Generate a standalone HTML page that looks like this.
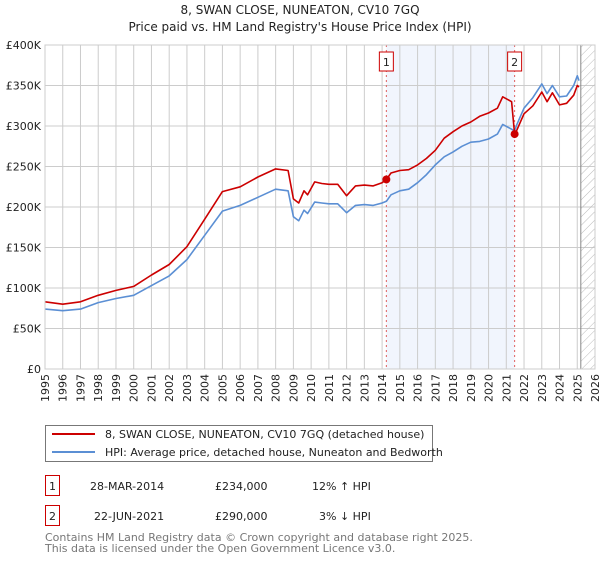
<!DOCTYPE html>
<html><head><meta charset="utf-8"><style>
body{margin:0;background:#fff;font-family:"DejaVu Sans","Liberation Sans",sans-serif;}
svg text{font-family:"DejaVu Sans","Liberation Sans",sans-serif;}
</style></head><body>
<svg id="chart" width="600" height="560" viewBox="0 0 600 560" xmlns="http://www.w3.org/2000/svg">
<defs><pattern id="hatch" width="6" height="6" patternUnits="userSpaceOnUse" patternTransform="rotate(45)"><line x1="0" y1="0" x2="0" y2="6" stroke="#bbb" stroke-width="1"/></pattern></defs>
<text x="300" y="14" text-anchor="middle" font-size="12" fill="#222">8, SWAN CLOSE, NUNEATON, CV10 7GQ</text>
<text x="300" y="31" text-anchor="middle" font-size="12" fill="#222">Price paid vs. HM Land Registry's House Price Index (HPI)</text>
<g id="plot"></g>
<g>
<rect x="45.5" y="425.5" width="387" height="36" fill="#fff" stroke="#777"/>
<line x1="52" y1="434" x2="95" y2="434" stroke="#cc0000" stroke-width="2"/>
<text x="105" y="438" font-size="11" fill="#222">8, SWAN CLOSE, NUNEATON, CV10 7GQ (detached house)</text>
<line x1="52" y1="452" x2="95" y2="452" stroke="#5b8fd4" stroke-width="2"/>
<text x="105" y="456" font-size="11" fill="#222">HPI: Average price, detached house, Nuneaton and Bedworth</text>
</g>
<g font-size="11" fill="#222">
<rect x="45.5" y="475.5" width="14" height="20" fill="none" stroke="#cc0000"/>
<text x="52.5" y="490" text-anchor="middle">1</text>
<text x="90" y="490">28-MAR-2014</text>
<text x="215" y="490">£234,000</text>
<text x="312" y="490">12% ↑ HPI</text>
<rect x="45.5" y="505.5" width="14" height="20" fill="none" stroke="#cc0000"/>
<text x="52.5" y="520" text-anchor="middle">2</text>
<text x="94" y="520">22-JUN-2021</text>
<text x="215" y="520">£290,000</text>
<text x="319" y="520">3% ↓ HPI</text>
</g>
<text x="45" y="541" font-size="11" fill="#777">Contains HM Land Registry data © Crown copyright and database right 2025.</text>
<text x="45" y="552" font-size="11" fill="#777">This data is licensed under the Open Government Licence v3.0.</text>
</svg>
<script>
const years=[1995,1996,1997,1998,1999,2000,2001,2002,2003,2004,2005,2006,2007,2008,2008.7,2009.0,2009.3,2009.6,2009.8,2010.2,2010.6,2011,2011.5,2012,2012.5,2013,2013.5,2014,2014.24,2014.5,2015,2015.5,2016,2016.5,2017,2017.5,2018,2018.5,2019,2019.5,2020,2020.5,2020.8,2021.3,2021.47,2021.6,2022,2022.5,2023,2023.3,2023.6,2024,2024.4,2024.8,2025,2025.1];
const hpiValues=[74,72,74,82,87,91,103,115,135,165,195,202,212,222,220,188,183,196,192,206,205,204,204,193,202,203,202,205,207,215,220,222,230,240,252,262,268,275,280,281,284,290,302,296,294,302,322,335,352,340,350,336,337,350,362,356];
const priceValues=[83,80,83,91,97,102,116,129,151,185,219,225,237,247,245,210,205,220,215,231,229,228,228,214,226,227,226,230,234,242,245,246,252,260,270,285,293,300,305,312,316,322,336,330,290,295,315,325,342,330,341,326,328,338,350,348];
const yTicks=[0,50,100,150,200,250,300,350,400];
const yTickLabels=['£0','£50K','£100K','£150K','£200K','£250K','£300K','£350K','£400K'];
const xTickYears=[1995,1996,1997,1998,1999,2000,2001,2002,2003,2004,2005,2006,2007,2008,2009,2010,2011,2012,2013,2014,2015,2016,2017,2018,2019,2020,2021,2022,2023,2024,2025,2026];
const saleYears=[2014.24,2021.47];
const salePrices=[234,290];
const saleLabels=['1','2'];
const NS='http://www.w3.org/2000/svg';
const L=45,R=595,T=45,B=369;
const x=y=>L+(y-1995)/(2026-1995)*(R-L);
const yv=v=>B-v/400*(B-T);
const g=document.getElementById('plot');
function mk(tag,attrs){const e=document.createElementNS(NS,tag);for(const k in attrs)e.setAttribute(k,attrs[k]);g.appendChild(e);return e;}
let e;
e=mk('rect',{x:x(saleYears[0]),y:T,width:x(saleYears[1])-x(saleYears[0]),height:B-T,fill:'#eef3fc',opacity:0.8});


xTickYears.forEach(yr=>{
 e=mk('line',{x1:x(yr),x2:x(yr),y1:T,y2:B,stroke:'#ccc','stroke-width':1});
 
 
 e=mk('text',{x:0,y:0,'font-size':11,fill:'#222','text-anchor':'end',transform:`translate(${x(yr)+4},${B+5}) rotate(-90)`});
 e.textContent=yr;
 
 
});
yTicks.forEach((v,i)=>{
 e=mk('line',{x1:L,x2:R,y1:yv(v),y2:yv(v),stroke:'#ccc','stroke-width':1});
 
 
 e=mk('text',{x:L-4,y:yv(v)+4,'font-size':11,fill:'#222','text-anchor':'end'});
 e.textContent=yTickLabels[i];
 
 
});
e=mk('rect',{x:x(2025.2),y:T,width:R-x(2025.2),height:B-T,fill:'url(#hatch)'});


e=mk('line',{x1:x(2025.2),x2:x(2025.2),y1:T,y2:B,stroke:'#888'});


saleYears.forEach((s,i)=>{
 e=mk('line',{x1:x(s),x2:x(s),y1:T,y2:B,stroke:'#e06060','stroke-dasharray':'2,3','stroke-width':1});
 
 
 e=mk('rect',{x:x(s)-7,y:52,width:14,height:19,fill:'#fff',stroke:'#cc0000'});
 
 
 e=mk('text',{x:x(s),y:66,'font-size':11,'text-anchor':'middle',fill:'#222'});
 e.textContent=saleLabels[i];
 
 
});
function line(vals,color,name){
 const d=years.map((yr,i)=>(i?'L':'M')+x(yr).toFixed(1)+','+yv(vals[i]).toFixed(1)).join('');
 e=mk('path',{d:d,fill:'none',stroke:color,'stroke-width':1.6,'stroke-linejoin':'round'});
 
 
}
line(hpiValues,'#5b8fd4','hpi-line');
line(priceValues,'#cc0000','price-line');
saleYears.forEach((s,i)=>{
 e=mk('circle',{cx:x(s),cy:yv(salePrices[i]),r:4,fill:'#cc0000'});
 
 
});
e=mk('rect',{x:L,y:T,width:R-L,height:B-T,fill:'none',stroke:'#ccc'});


</script>
</body></html>
